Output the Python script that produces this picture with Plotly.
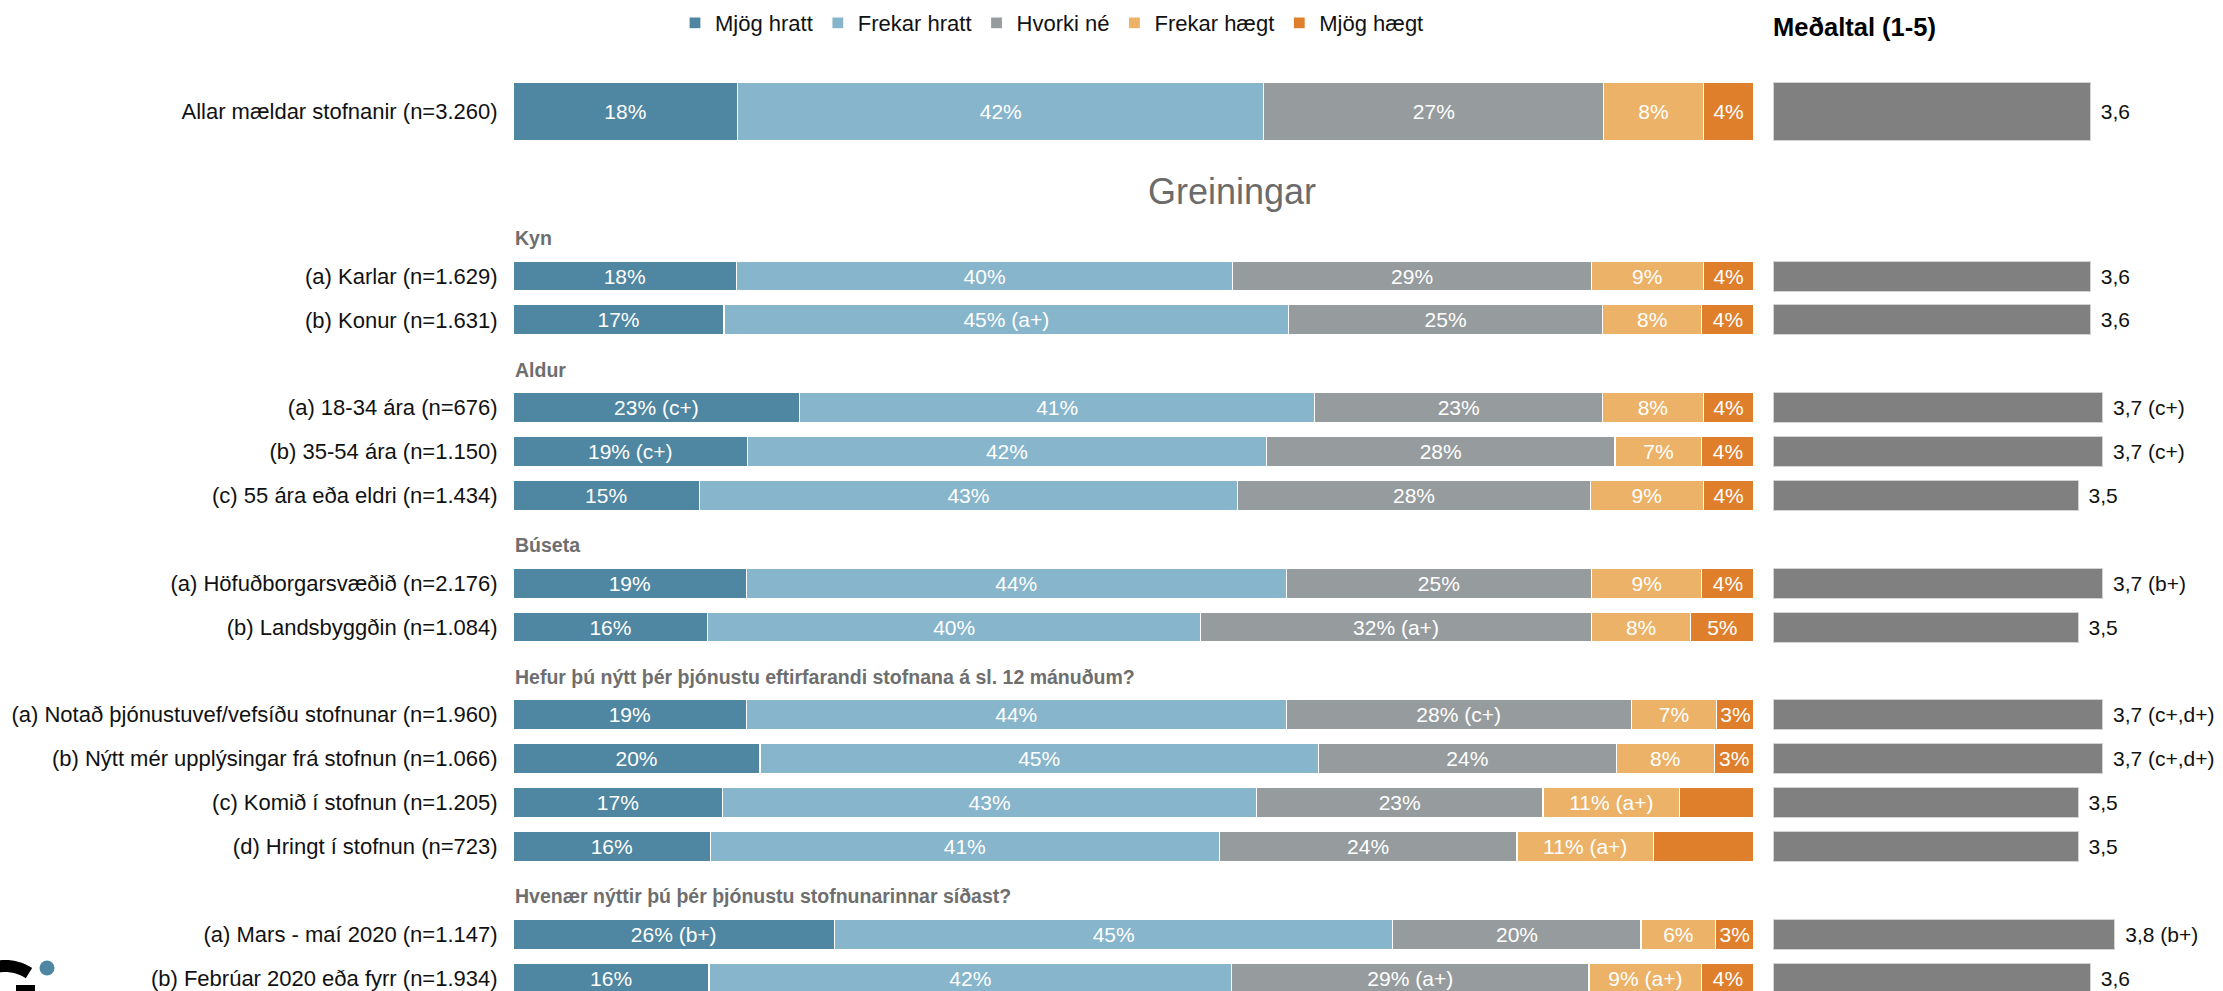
import math
import plotly.graph_objects as go

W, H = 2223, 991
FONT = "Liberation Sans, Arial, Helvetica, sans-serif"


def px(x):
    return x / W


def py(y):
    return 1 - y / H


# ---------------- data ----------------
series = ["Mjög hratt", "Frekar hratt", "Hvorki né", "Frekar hægt", "Mjög hægt"]
colors = ["#4F86A1", "#87B5CB", "#969C9E", "#ECB267", "#E07F2B"]

overall_label = "Allar mældar stofnanir (n=3.260)"
group_titles = [
    "Kyn",
    "Aldur",
    "Búseta",
    "Hefur þú nýtt þér þjónustu eftirfarandi stofnana á sl. 12 mánuðum?",
    "Hvenær nýttir þú þér þjónustu stofnunarinnar síðast?",
]
group_rows = [
    ["(a) Karlar (n=1.629)", "(b) Konur (n=1.631)"],
    ["(a) 18-34 ára (n=676)", "(b) 35-54 ára (n=1.150)", "(c) 55 ára eða eldri (n=1.434)"],
    ["(a) Höfuðborgarsvæðið (n=2.176)", "(b) Landsbyggðin (n=1.084)"],
    ["(a) Notað þjónustuvef/vefsíðu stofnunar (n=1.960)",
     "(b) Nýtt mér upplýsingar frá stofnun (n=1.066)",
     "(c) Komið í stofnun (n=1.205)",
     "(d) Hringt í stofnun (n=723)"],
    ["(a) Mars - maí 2020 (n=1.147)", "(b) Febrúar 2020 eða fyrr (n=1.934)"],
]

# order: overall, then group rows in order
mjog_hratt = [18.1, 18.0, 17.0, 23.1, 18.9, 15.0, 18.8, 15.7, 18.8, 19.9, 16.9, 15.9, 25.9, 15.8]
frekar_hratt = [42.4, 40.0, 45.5, 41.5, 41.8, 43.4, 43.5, 39.7, 43.5, 45.0, 43.0, 41.0, 45.0, 42.1]
hvorki_ne = [27.4, 28.9, 25.3, 23.2, 28.1, 28.4, 24.6, 31.5, 27.8, 24.0, 23.1, 24.0, 20.0, 28.8]
frekar_haegt = [8.0, 9.0, 8.0, 8.1, 7.0, 9.1, 8.9, 8.0, 6.9, 7.9, 11.0, 11.0, 6.0, 9.1]
mjog_haegt = [4.1, 4.1, 4.2, 4.1, 4.2, 4.1, 4.2, 5.1, 3.0, 3.2, 6.0, 8.1, 3.1, 4.2]

lbl_mjog_hratt = ["18%", "18%", "17%", "23% (c+)", "19% (c+)", "15%", "19%", "16%",
                  "19%", "20%", "17%", "16%", "26% (b+)", "16%"]
lbl_frekar_hratt = ["42%", "40%", "45% (a+)", "41%", "42%", "43%", "44%", "40%",
                    "44%", "45%", "43%", "41%", "45%", "42%"]
lbl_hvorki_ne = ["27%", "29%", "25%", "23%", "28%", "28%", "25%", "32% (a+)",
                 "28% (c+)", "24%", "23%", "24%", "20%", "29% (a+)"]
lbl_frekar_haegt = ["8%", "9%", "8%", "8%", "7%", "9%", "9%", "8%",
                    "7%", "8%", "11% (a+)", "11% (a+)", "6%", "9% (a+)"]
lbl_mjog_haegt = ["4%", "4%", "4%", "4%", "4%", "4%", "4%", "5%",
                  "3%", "3%", "", "", "3%", "4%"]

means = [3.6, 3.6, 3.6, 3.7, 3.7, 3.5, 3.7, 3.5, 3.7, 3.7, 3.5, 3.5, 3.8, 3.6]
mean_labels = ["3,6", "3,6", "3,6", "3,7 (c+)", "3,7 (c+)", "3,5", "3,7 (b+)", "3,5",
               "3,7 (c+,d+)", "3,7 (c+,d+)", "3,5", "3,5", "3,8 (b+)", "3,6"]

values = [mjog_hratt, frekar_hratt, hvorki_ne, frekar_haegt, mjog_haegt]
texts = [lbl_mjog_hratt, lbl_frekar_hratt, lbl_hvorki_ne, lbl_frekar_haegt, lbl_mjog_haegt]

# ---------------- row layout ----------------
heading_y, row_y, row_labels = [], [], []
idx = 0
for title, rows in zip(group_titles, group_rows):
    heading_y.append(idx)
    idx += 1
    for r in rows:
        row_y.append(idx)
        row_labels.append(r)
        idx += 1

FIRST_PX, LAST_PX = 276, 978
PITCH = (LAST_PX - FIRST_PX) / (row_y[-1] - row_y[0])
Y0 = FIRST_PX - row_y[0] * PITCH
TOP_PX = 168
y_range = [(H - Y0) / PITCH, (TOP_PX - Y0) / PITCH]
BAR_W = 30 / PITCH

TOP_DOM = (60, 163)
TOP_BAR_W = 58 / (TOP_DOM[1] - TOP_DOM[0])

MEAN_PX_PER_UNIT = 122
MEAN_LEFT = 1773

fig = go.Figure()

for name, col, v, t in zip(series, colors, values, texts):
    common = dict(
        name=name, orientation="h",
        marker=dict(color=col, line=dict(color="white", width=1.2)),
        textposition="inside", insidetextanchor="middle", textangle=0,
        constraintext="none",
        insidetextfont=dict(color="white", size=21, family=FONT),
        legendgroup=name, hoverinfo="skip",
    )
    fig.add_trace(go.Bar(x=v[:1], y=[0], text=t[:1], xaxis="x", yaxis="y2",
                         width=TOP_BAR_W, showlegend=True, **common))
    fig.add_trace(go.Bar(x=v[1:], y=row_y, text=t[1:], xaxis="x", yaxis="y",
                         width=BAR_W, showlegend=False, **common))

NB = "\u00a0\u200a"
mean_common = dict(
    orientation="h", base=1,
    marker=dict(color="#808080", line=dict(color="#D3D3D3", width=1)),
    textposition="outside", constraintext="none", cliponaxis=False,
    outsidetextfont=dict(color="#111111", size=21, family=FONT),
    showlegend=False, hoverinfo="skip",
)
fig.add_trace(go.Bar(x=[means[0] - 1], y=[0], text=[NB + mean_labels[0]],
                     xaxis="x2", yaxis="y2", width=TOP_BAR_W, **mean_common))
fig.add_trace(go.Bar(x=[m - 1 for m in means[1:]], y=row_y,
                     text=[NB + s for s in mean_labels[1:]],
                     xaxis="x2", yaxis="y", width=BAR_W, **mean_common))

annotations = []
for title, hy in zip(group_titles, heading_y):
    annotations.append(dict(
        text="<b>" + title + "</b>", x=px(513), xref="paper", xanchor="left",
        y=hy, yref="y", yanchor="middle", yshift=-6, showarrow=False,
        font=dict(family=FONT, size=19.5, color="#6E6E6E")))
annotations.append(dict(
    text="Greiningar", x=px(1232), xref="paper", xanchor="center",
    y=py(192), yref="paper", yanchor="middle", showarrow=False,
    font=dict(family=FONT, size=36, color="#6B6B6B")))
annotations.append(dict(
    text="<b>Meðaltal (1-5)</b>", x=px(1771), xref="paper", xanchor="left",
    y=py(27), yref="paper", yanchor="middle", showarrow=False,
    font=dict(family=FONT, size=25.5, color="#000000")))

# logo fragment bottom-left
shapes = []
cx, cy, r = 5, 1010, 44
pts = []
for k in range(0, 21):
    a = math.radians(57 + (102 - 57) * k / 20)
    pts.append((px(cx + r * math.cos(a)), py(cy - r * math.sin(a))))
path = "M " + " L ".join(f"{x:.5f},{y:.5f}" for x, y in reversed(pts))
shapes.append(dict(type="path", path=path, xref="paper", yref="paper",
                   line=dict(color="#000000", width=12)))
shapes.append(dict(type="rect", xref="paper", yref="paper",
                   x0=px(16), x1=px(35), y0=py(995), y1=py(985),
                   fillcolor="#000000", line=dict(width=0)))
shapes.append(dict(type="circle", xref="paper", yref="paper",
                   x0=px(39.5), x1=px(54.5), y0=py(975.5), y1=py(960.5),
                   fillcolor="#4F86A1", line=dict(width=0)))

tickfont = dict(family=FONT, size=22, color="#111111")
fig.update_layout(
    width=W, height=H, margin=dict(l=0, r=0, t=0, b=0),
    paper_bgcolor="white", plot_bgcolor="white",
    barmode="stack",
    font=dict(family=FONT, size=22, color="#111111"),
    xaxis=dict(domain=[px(513), px(1754)], range=[0, 100], visible=False, anchor="y"),
    xaxis2=dict(domain=[px(MEAN_LEFT), 1],
                range=[1, 1 + (W - MEAN_LEFT) / MEAN_PX_PER_UNIT],
                visible=False, anchor="y"),
    yaxis=dict(domain=[0, py(TOP_PX)], range=y_range, anchor="x",
               tickvals=row_y, ticktext=row_labels, tickfont=tickfont,
               ticks="outside", ticklen=10, tickcolor="rgba(0,0,0,0)",
               showgrid=False, zeroline=False, showline=False),
    yaxis2=dict(domain=[py(TOP_DOM[1]), py(TOP_DOM[0])], range=[-0.5, 0.5], anchor="x",
                tickvals=[0], ticktext=[overall_label], tickfont=tickfont,
                ticks="outside", ticklen=10, tickcolor="rgba(0,0,0,0)",
                showgrid=False, zeroline=False, showline=False),
    legend=dict(orientation="h", x=px(675), y=py(2), xanchor="left", yanchor="top",
                font=dict(family=FONT, size=22, color="#111111"),
                traceorder="normal", bgcolor="rgba(0,0,0,0)"),
    annotations=annotations,
    shapes=shapes,
    showlegend=True,
)

fig.write_html("out.html")
